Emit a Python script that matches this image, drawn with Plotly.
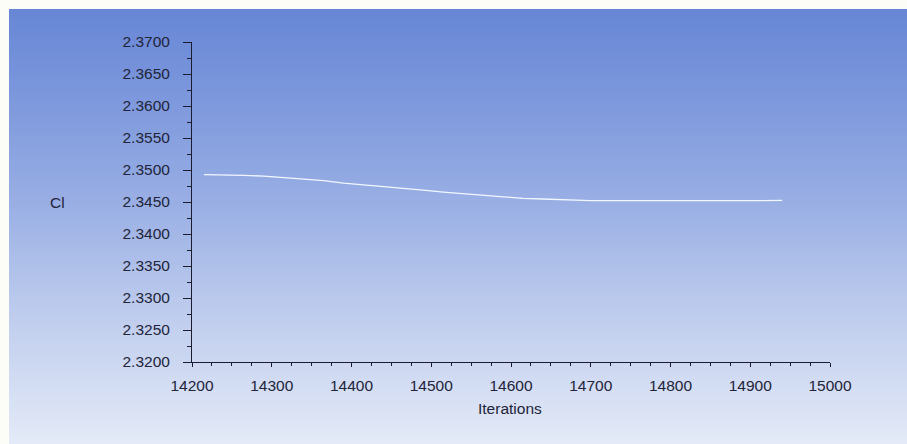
import plotly.graph_objects as go

# ---- data ----
iterations = [14215, 14240, 14250, 14265, 14290, 14315, 14340, 14365, 14390, 14415,
              14440, 14465, 14490, 14515, 14540, 14565, 14590, 14615, 14640, 14665,
              14675, 14680, 14685, 14690, 14700, 14715, 14740, 14750, 14757, 14765,
              14772, 14780, 14787, 14795, 14802, 14810, 14817, 14825, 14840, 14865,
              14890, 14915, 14930, 14935, 14940]
cl_values = [2.34927, 2.34925, 2.34916, 2.34915, 2.34905, 2.34880, 2.34860, 2.34835, 2.34795, 2.34770,
             2.34745, 2.34715, 2.34685, 2.34655, 2.34630, 2.34600, 2.34575, 2.34558, 2.34547, 2.34535,
             2.34530, 2.34522, 2.34530, 2.34522, 2.34521, 2.34521, 2.34520, 2.34514, 2.34522, 2.34514,
             2.34522, 2.34514, 2.34522, 2.34514, 2.34522, 2.34514, 2.34522, 2.34515, 2.34520, 2.34521,
             2.34521, 2.34522, 2.34528, 2.34520, 2.34524]

x_tick_vals = [14200, 14300, 14400, 14500, 14600, 14700, 14800, 14900, 15000]
x_tick_text = ["14200", "14300", "14400", "14500", "14600", "14700", "14800", "14900", "15000"]
y_tick_vals = [2.32, 2.325, 2.33, 2.335, 2.34, 2.345, 2.35, 2.355, 2.36, 2.365, 2.37]
y_tick_text = ["2.3200", "2.3250", "2.3300", "2.3350", "2.3400", "2.3450",
               "2.3500", "2.3550", "2.3600", "2.3650", "2.3700"]

# ---- layout geometry (page body margin removed by post_script) ----
W, H = 907, 444
L, R, T, B = 192, 830, 42, 362
pw, ph = R - L, B - T

def px_to_paper_x(px):
    return (px - L) / pw

def py_to_paper_y(py):
    return (B - py) / ph

# gradient background stops (pixel y, rgb)
stops = [(9, (102, 134, 213)), (100, (125, 152, 220)), (200, (152, 174, 228)),
         (300, (186, 201, 236)), (444, (228, 234, 247))]

def color_at(py):
    for (y0, c0), (y1, c1) in zip(stops[:-1], stops[1:]):
        if y0 <= py <= y1:
            t = (py - y0) / (y1 - y0)
            return tuple(round(a + (b - a) * t) for a, b in zip(c0, c1))
    return stops[-1][1]

shapes = []
band = 4
py = 9
while py < H:
    c = color_at(py + band / 2)
    shapes.append(dict(type="rect", xref="paper", yref="paper",
                       x0=px_to_paper_x(9), x1=px_to_paper_x(W + 4),
                       y0=py_to_paper_y(min(py + band + 0.5, H + 4)), y1=py_to_paper_y(py),
                       fillcolor="rgb(%d,%d,%d)" % c, line=dict(width=0),
                       layer="below"))
    py += band

fig = go.Figure()
fig.add_trace(go.Scatter(x=iterations, y=cl_values, mode="lines",
                         line=dict(color="#f2f7ff", width=1.3),
                         hoverinfo="skip", showlegend=False))

font_main = dict(family="Liberation Sans, Arial, sans-serif", size=15.5, color="#22243a")
axis_col = "#1c1c30"

fig.update_layout(
    width=W, height=H,
    margin=dict(l=L, r=W - R, t=T, b=H - B, pad=0),
    paper_bgcolor="#fdfdf8",
    plot_bgcolor="rgba(0,0,0,0)",
    shapes=shapes,
    font=font_main,
    xaxis=dict(range=[14200, 15000], showgrid=False, zeroline=False,
               showline=True, linecolor=axis_col, linewidth=1,
               ticks="outside", ticklen=4, tickwidth=1, tickcolor=axis_col,
               tickvals=x_tick_vals, ticktext=x_tick_text,
               tickfont=font_main, ticklabelstandoff=5,
               minor=dict(dtick=25, ticks="outside", ticklen=3, tickcolor=axis_col, showgrid=False)),
    yaxis=dict(range=[2.32, 2.37], showgrid=False, zeroline=False,
               showline=True, linecolor=axis_col, linewidth=1,
               ticks="outside", ticklen=8, tickwidth=1, tickcolor=axis_col,
               tickvals=y_tick_vals, ticktext=y_tick_text,
               tickfont=font_main, ticklabelstandoff=10,
               minor=dict(dtick=0.0025, ticks="outside", ticklen=4, tickcolor=axis_col, showgrid=False)),
    annotations=[
        dict(text="Cl", xref="paper", yref="paper",
             x=px_to_paper_x(57), y=py_to_paper_y(202),
             showarrow=False, xanchor="center", yanchor="middle", font=font_main),
        dict(text="Iterations", xref="paper", yref="paper",
             x=px_to_paper_x(510), y=py_to_paper_y(408),
             showarrow=False, xanchor="center", yanchor="middle", font=font_main),
    ],
)

fig.write_html("out.html",
               config={"displayModeBar": False},
               post_script="document.body.style.margin='0';document.body.style.overflow='hidden';")
